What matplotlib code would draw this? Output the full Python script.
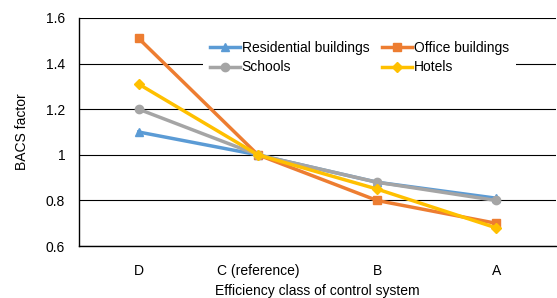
import numpy as np
import matplotlib
matplotlib.use("Agg")
import matplotlib.pyplot as plt

categories = ["D", "C (reference)", "B", "A"]
residential = [1.10, 1.00, 0.88, 0.81]
office = [1.51, 1.00, 0.80, 0.70]
schools = [1.20, 1.00, 0.88, 0.80]
hotels = [1.31, 1.00, 0.85, 0.68]

plt.rcParams['font.family'] = ['Liberation Sans', 'DejaVu Sans']

fig = plt.figure(figsize=(5.57, 2.98), dpi=100)
ax = fig.add_axes([0.142, 0.174, 0.856, 0.766])

x = np.arange(len(categories))
h1, = ax.plot(x, residential, color="#5B9BD5", lw=2.5, marker="^", ms=6, label="Residential buildings")
h2, = ax.plot(x, office, color="#ED7D31", lw=2.5, marker="s", ms=6, label="Office buildings")
h3, = ax.plot(x, schools, color="#A5A5A5", lw=2.5, marker="o", ms=6, label="Schools")
h4, = ax.plot(x, hotels, color="#FFC000", lw=2.5, marker="D", ms=5, label="Hotels")

ax.set_xlim(-0.5, 3.5)
ax.set_ylim(0.6, 1.6)
ax.set_yticks([0.6, 0.8, 1.0, 1.2, 1.4, 1.6])
ax.set_yticklabels(["0.6", "0.8", "1", "1.2", "1.4", "1.6"])
ax.set_xticks(x)
ax.set_xticklabels(categories)
ax.tick_params(axis="y", length=0, labelsize=10, pad=10)
ax.tick_params(axis="x", length=0, labelsize=10, pad=13)
ax.yaxis.grid(True, color="black", lw=0.8)
ax.set_axisbelow(True)
for s in ["top", "right"]:
    ax.spines[s].set_visible(False)
ax.spines["left"].set_linewidth(1.0)
ax.spines["bottom"].set_linewidth(1.0)

ax.set_xlabel("Efficiency class of control system", fontsize=10, labelpad=4)
ax.set_ylabel("BACS factor", fontsize=10, labelpad=12)

leg = ax.legend([h1, h3, h2, h4], ["Residential buildings", "Schools", "Office buildings", "Hotels"],
                ncol=2, loc="upper left", bbox_to_anchor=(0.245, 0.96),
                frameon=True, framealpha=1, edgecolor="none", fontsize=10,
                handlelength=2.2, handletextpad=0.1, columnspacing=0.9,
                labelspacing=0.4, borderpad=0.5)

fig.savefig("out.png", dpi=100)
